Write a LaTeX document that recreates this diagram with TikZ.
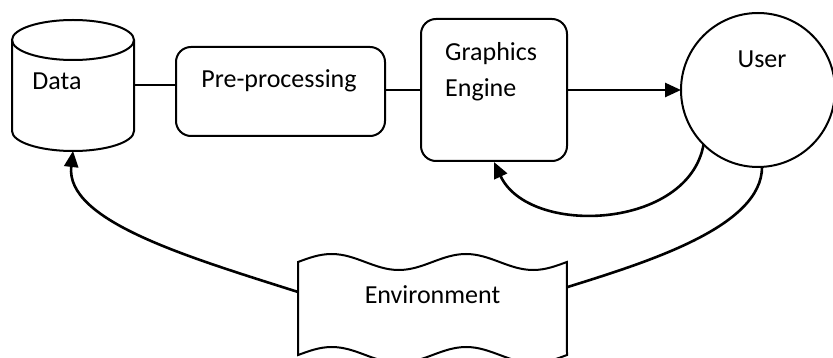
\documentclass[tikz,border=0pt]{standalone}
\usepackage{fontspec}
\setmainfont{Carlito}
\usetikzlibrary{shapes,arrows.meta}

\begin{document}
\begin{tikzpicture}[x=1pt,y=-1pt,
    font=\fontsize{26}{36}\selectfont,
    box/.style={draw,line width=2pt,rounded corners=15pt},
    hidden/.style={outer sep=0pt,inner sep=0pt},
    link/.style={line width=2pt},
    flow/.style={line width=2.6pt,-{Triangle[length=16pt,width=14pt]}},
    txt/.style={inner sep=0pt,anchor=base}]
\useasboundingbox (0,0) rectangle (833,358);

% data store (cylinder)
\node[hidden,minimum width=122pt,minimum height=131pt] (data) at (73,85.5) {};
\draw[link] ([yshift=-20pt]data.north west) -- ([yshift=20pt]data.south west)
  arc[start angle=180,end angle=360,x radius=61pt,y radius=20pt] -- ([yshift=-20pt]data.north east);
\draw[link] ([yshift=-20pt]data.north) ellipse[x radius=61pt,y radius=20pt];
\node[txt] (datatext) at ([xshift=-16pt,yshift=-4.5pt]data.center) {Data};

% processing boxes
\node[box,minimum width=209pt,minimum height=89pt] (pre) at (280.5,91.5) {};
\node[txt] (pretext) at ([xshift=-1.5pt,yshift=3.5pt]pre.center) {Pre-processing};
\node[box,minimum width=146pt,minimum height=142pt] (gfx) at (494,90) {};
\node[txt,anchor=base west,align=left] (gfxtext) at ([xshift=-49pt,yshift=-7pt]gfx.center) {Graphics\\Engine};

% user
\node[circle,draw,line width=2pt,minimum size=154pt,outer sep=0pt] (user) at (758,90) {};
\node[txt] (usertext) at ([xshift=4pt,yshift=22pt]user.center) {User};

% environment (wavy tape)
\node[hidden,minimum width=269pt,minimum height=93pt] (env) at (432.5,308.5) {};
\draw[link] (env.north west)
  sin ++(33.6,-8) cos ++(33.6,8) sin ++(33.6,8) cos ++(33.6,-8)
  sin ++(33.6,-8) cos ++(33.6,8) sin ++(33.6,8) cos ++(33.6,-8)
  -- (env.south east)
  sin ++(-33.6,8) cos ++(-33.6,-8) sin ++(-33.6,-8) cos ++(-33.6,8)
  sin ++(-33.6,8) cos ++(-33.6,-8) sin ++(-33.6,-8) cos ++(-33.6,8)
  -- cycle;
\node[txt] (envtext) at ([yshift=4.5pt]env.center) {Environment};

% connectors
\draw[link] (data.east) -- (data.east -| pre.west);
\draw[link] (gfx.west -| pre.east) -- (gfx.west);
\draw[flow] (gfx.east) -- (user.west);
\draw[flow] (user.225) .. controls +(-15,85) and +(35,75) .. (gfx.south);
\draw[flow,-] (user.273) .. controls +(0,60) and +(80,-25) .. (env.9);
\draw[flow] (env.173) .. controls +(-110,-35) and +(-8,70) .. (data.south);
\end{tikzpicture}
\end{document}
